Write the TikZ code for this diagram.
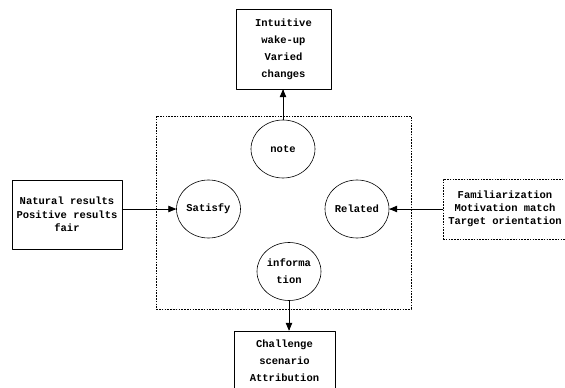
\documentclass[tikz,border=0pt]{standalone}
\usepackage{fontspec}
\setmonofont{Liberation Mono}
\usepackage{tikz}
\usetikzlibrary{arrows,shapes.geometric}
\begin{document}
\begin{tikzpicture}[line cap=round,line join=round,>=triangle 45,x=1pt,y=-1pt,
  font=\ttfamily\bfseries\fontsize{10.5}{13.3}\selectfont,
  circ/.style={ellipse,draw,line width=0.6pt,minimum width=64pt,minimum height=58pt,inner sep=0pt,align=center},
  bx/.style={rectangle,draw,line width=0.6pt,inner sep=0pt,align=center},
  dots/.style={line cap=butt,dash pattern=on 1.6pt off 1.2pt},
  loose/.style={font=\ttfamily\bfseries\fontsize{10.5}{17}\selectfont}]
\useasboundingbox (0,0) rectangle (565,388);
\draw [line width=0.7pt,dots] (156,116) rectangle (411,309);
\node [circ] (note) at (283,149) {note};
\node [circ] (satisfy) at (208.5,209) {Satisfy};
\node [circ] (related) at (357,209) {Related};
\node [circ,loose] (info) at (289,271.5) {informa\\tion};
\node [bx,loose,minimum width=95pt,minimum height=80pt] (topbox) at (283.5,49) {Intuitive\\wake-up\\Varied\\changes};
\node [bx,minimum width=110pt,minimum height=69pt] (leftbox) at (67,214.5) {Natural results\\Positive results\\fair};
\node [bx,dots,minimum width=124pt,minimum height=60pt] (rightbox) at (505,209) {Familiarization\\Motivation match\\Target orientation};
\node [bx,loose,minimum width=101pt,minimum height=59pt] (botbox) at (284.5,360.5) {Challenge\\scenario\\Attribution};
\draw [->,line width=0.8pt] (note.north) -- (note.north |- topbox.south);
\draw [->,line width=0.8pt] (satisfy.west -| leftbox.east) -- (satisfy.west);
\draw [->,line width=0.8pt] (rightbox.west) -- (related.east);
\draw [->,line width=0.8pt] (info.south) -- (info.south |- botbox.north);
\end{tikzpicture}
\end{document}
